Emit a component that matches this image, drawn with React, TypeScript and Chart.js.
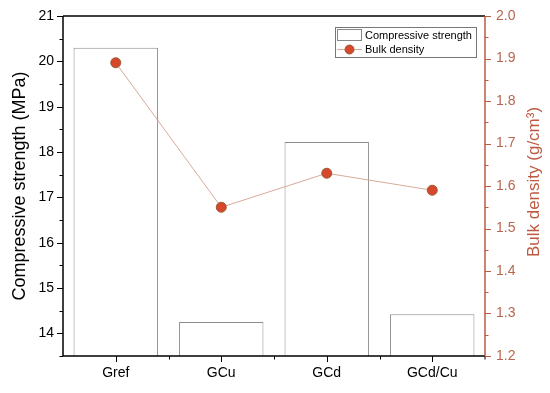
import React, { useEffect, useRef } from 'react';
import { Chart, registerables } from 'chart.js';
Chart.register(...registerables);

const categories = ['Gref', 'GCu', 'GCd', 'GCd/Cu'];
const compressiveStrength = [20.3, 14.25, 18.22, 14.42];
const bulkDensity = [1.89, 1.55, 1.63, 1.59];
const leftTicks = [14, 15, 16, 17, 18, 19, 20, 21];
const rightTicks = [1.2, 1.3, 1.4, 1.5, 1.6, 1.7, 1.8, 1.9, 2.0];

const FONT = '"Liberation Sans", Arial, sans-serif';
const RED = '#bd5a42';
const RED_TEXT = '#b8664e';

const decorPlugin = {
  id: 'decor',
  afterDatasetsDraw(chart: any) {
    const { ctx, chartArea: a, scales } = chart;
    const y = scales.y, y1 = scales.y1, x = scales.x;
    ctx.save();
    // frame
    ctx.lineWidth = 1.5;
    ctx.strokeStyle = '#000';
    ctx.beginPath();
    ctx.moveTo(a.left, a.top); ctx.lineTo(a.right, a.top);
    ctx.moveTo(a.left, a.top); ctx.lineTo(a.left, a.bottom);
    ctx.moveTo(a.left, a.bottom); ctx.lineTo(a.right, a.bottom);
    ctx.stroke();
    ctx.strokeStyle = RED;
    ctx.beginPath();
    ctx.moveTo(a.right, a.top); ctx.lineTo(a.right, a.bottom);
    ctx.stroke();

    // left ticks
    ctx.lineWidth = 1;
    ctx.strokeStyle = '#000';
    ctx.beginPath();
    const nL = Math.round((y.max - y.min) / 0.5);
    for (let i = 0; i <= nL; i++) {
      const v = y.min + i * 0.5;
      const p = Math.round(y.getPixelForValue(v)) + 0.5;
      const major = Math.abs(v - Math.round(v)) < 1e-6;
      ctx.moveTo(a.left, p); ctx.lineTo(a.left - (major ? 6 : 3.5), p);
    }
    // bottom ticks
    for (let i = 0; i < categories.length; i++) {
      const p = Math.round(x.getPixelForValue(i)) + 0.5;
      ctx.moveTo(p, a.bottom); ctx.lineTo(p, a.bottom + 6);
      if (i < categories.length - 1) {
        const q = Math.round((x.getPixelForValue(i) + x.getPixelForValue(i + 1)) / 2) + 0.5;
        ctx.moveTo(q, a.bottom); ctx.lineTo(q, a.bottom + 3.5);
      }
    }
    ctx.moveTo(a.right, a.bottom); ctx.lineTo(a.right, a.bottom + 3.5);
    ctx.stroke();

    // right ticks
    ctx.strokeStyle = RED;
    ctx.beginPath();
    const nR = Math.round((y1.max - y1.min) / 0.05);
    for (let i = 0; i <= nR; i++) {
      const p = Math.round(y1.getPixelForValue(y1.min + i * 0.05)) + 0.5;
      const major = i % 2 === 0;
      ctx.moveTo(a.right, p); ctx.lineTo(a.right + (major ? 6 : 3.5), p);
    }
    ctx.stroke();

    // axis titles
    ctx.fillStyle = '#000';
    ctx.font = `18px ${FONT}`;
    ctx.textAlign = 'center';
    ctx.textBaseline = 'middle';
    ctx.save();
    ctx.translate(20, (a.top + a.bottom) / 2);
    ctx.rotate(-Math.PI / 2);
    ctx.fillText('Compressive strength (MPa)', 0, 0);
    ctx.restore();

    ctx.save();
    ctx.fillStyle = RED;
    ctx.font = `17px ${FONT}`;
    ctx.translate(534, (a.top + a.bottom) / 2 - 4);
    ctx.rotate(-Math.PI / 2);
    ctx.fillText('Bulk density (g/cm³)', 0, 0);
    ctx.restore();

    // legend
    const lx = a.right - 150, ly = a.top + 11;
    ctx.fillStyle = '#fff';
    ctx.fillRect(lx, ly, 141, 30);
    ctx.strokeStyle = '#777';
    ctx.lineWidth = 1;
    ctx.strokeRect(lx + 0.5, ly + 0.5, 141, 30);
    const ds = chart.data.datasets;
    ctx.strokeStyle = '#888';
    ctx.strokeRect(lx + 2.5, ly + 2.5, 24, 11);
    ctx.strokeStyle = '#d8aa9a';
    ctx.beginPath();
    ctx.moveTo(lx + 2, ly + 22.5); ctx.lineTo(lx + 27, ly + 22.5);
    ctx.stroke();
    ctx.beginPath();
    ctx.arc(lx + 14.5, ly + 22.5, 4.5, 0, Math.PI * 2);
    ctx.fillStyle = '#d6472c';
    ctx.fill();
    ctx.strokeStyle = '#9a5a32';
    ctx.stroke();
    ctx.fillStyle = '#000';
    ctx.font = `11px ${FONT}`;
    ctx.textAlign = 'left';
    ctx.fillText(ds[0].label, lx + 30, ly + 8.5);
    ctx.fillText(ds[1].label, lx + 30, ly + 22.5);
    ctx.restore();
  },
};

export default function App() {
  const ref = useRef<HTMLCanvasElement>(null);
  useEffect(() => {
    const chart = new Chart(ref.current!, {
      type: 'bar',
      data: {
        labels: categories,
        datasets: [
          {
            type: 'bar',
            label: 'Compressive strength',
            data: compressiveStrength,
            yAxisID: 'y',
            backgroundColor: '#ffffff',
            borderColor: '#8c8c8c',
            borderWidth: 1,
            barPercentage: 0.8,
            categoryPercentage: 1,
            order: 2,
          } as any,
          {
            type: 'line',
            label: 'Bulk density',
            data: bulkDensity,
            yAxisID: 'y1',
            borderColor: '#d8aa9a',
            borderWidth: 1,
            pointRadius: 5,
            pointBackgroundColor: '#d6472c',
            pointBorderColor: '#9a5a32',
            pointBorderWidth: 1,
            order: 1,
          } as any,
        ],
      },
      options: {
        responsive: false,
        animation: false,
        layout: { padding: { top: 16, left: 0, right: 0, bottom: 0 } },
        plugins: { legend: { display: false }, tooltip: { enabled: false } },
        scales: {
          x: {
            grid: { display: false, drawTicks: false },
            border: { display: false },
            ticks: { color: '#000', font: { family: FONT, size: 14 }, padding: 9 },
            afterFit: (s: any) => { s.height = 37; s.paddingLeft = 0; s.paddingRight = 0; },
          },
          y: {
            position: 'left',
            min: 13.5,
            max: 21,
            grid: { display: false, drawTicks: false },
            border: { display: false },
            ticks: { color: '#000', font: { family: FONT, size: 14 }, padding: 9 },
            afterBuildTicks: (s: any) => { s.ticks = leftTicks.map((v) => ({ value: v })); },
            afterFit: (s: any) => { s.width = 63; s.paddingTop = 0; s.paddingBottom = 0; },
          },
          y1: {
            position: 'right',
            min: 1.2,
            max: 2.0,
            grid: { display: false, drawTicks: false },
            border: { display: false },
            ticks: {
              color: RED_TEXT,
              font: { family: FONT, size: 14 },
              padding: 11,
              callback: (v: any) => Number(v).toFixed(1),
            },
            afterBuildTicks: (s: any) => { s.ticks = rightTicks.map((v) => ({ value: v })); },
            afterFit: (s: any) => { s.width = 65; s.paddingTop = 0; s.paddingBottom = 0; },
          },
        },
      },
      plugins: [decorPlugin],
    });
    return () => chart.destroy();
  }, []);
  return (
    <div style={{ position: 'fixed', left: 0, top: 0, width: 550, height: 393, background: '#fff' }}>
      <canvas ref={ref} width={550} height={393} style={{ width: 550, height: 393 }} />
    </div>
  );
}
